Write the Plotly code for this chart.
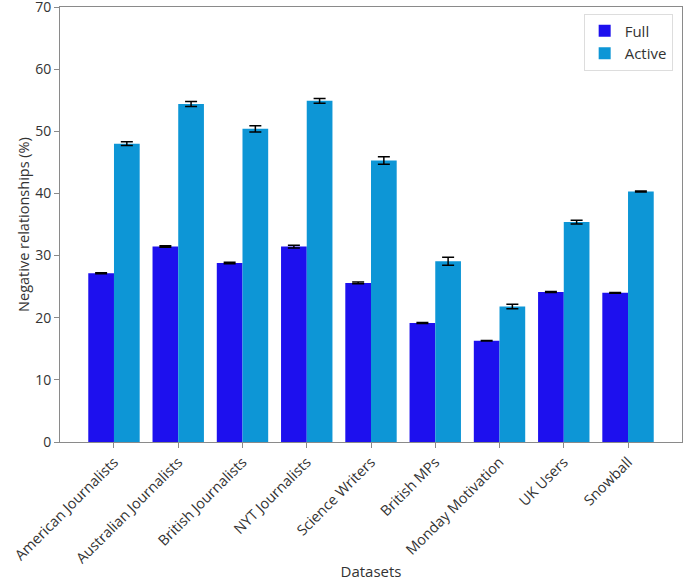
import plotly.graph_objects as go

categories = ["American Journalists", "Australian Journalists", "British Journalists",
              "NYT Journalists", "Science Writers", "British MPs", "Monday Motivation",
              "UK Users", "Snowball"]
full_values = [27.15, 31.45, 28.8, 31.45, 25.6, 19.15, 16.3, 24.15, 24.0]
full_errors = [0.08, 0.12, 0.12, 0.22, 0.15, 0.1, 0.05, 0.08, 0.05]
active_values = [48.0, 54.4, 50.4, 54.9, 45.3, 29.1, 21.8, 35.4, 40.3]
active_errors = [0.3, 0.4, 0.5, 0.38, 0.6, 0.65, 0.35, 0.3, 0.08]
y_ticks = [0, 10, 20, 30, 40, 50, 60, 70]

FONT = "Open Sans"
TEXT = "#333333"
AXIS = "#8a8a8a"

fig = go.Figure()
fig.add_trace(go.Bar(
    name="Full", x=categories, y=full_values,
    marker=dict(color="#1d10ee", line=dict(width=0)),
    error_y=dict(type="data", array=full_errors, color="black", thickness=1.5, width=6),
))
fig.add_trace(go.Bar(
    name="Active", x=categories, y=active_values,
    marker=dict(color="#0d96d6", line=dict(width=0)),
    error_y=dict(type="data", array=active_errors, color="black", thickness=1.5, width=6),
))

fig.update_layout(
    width=685, height=582,
    margin=dict(l=60, r=3, t=7, b=140),
    paper_bgcolor="white", plot_bgcolor="white",
    barmode="group", bargap=0.2, bargroupgap=0,
    font=dict(family=FONT, size=14, color=TEXT),
    legend=dict(x=0.985, y=0.985, xanchor="right", yanchor="top",
                bgcolor="white", bordercolor="#dddddd", borderwidth=1,
                font=dict(size=15, color=TEXT)),
    xaxis=dict(
        range=[-0.84, 8.84], tickangle=-45, showgrid=False, automargin=False,
        showline=True, linecolor=AXIS, linewidth=1, mirror=True,
        ticks="outside", tickcolor=AXIS, ticklen=5,
        tickfont=dict(size=14.5, color=TEXT),
        title=dict(text="Datasets", font=dict(size=15, color=TEXT), standoff=0),
    ),
    yaxis=dict(
        range=[0, 70], tickvals=y_ticks, showgrid=False, zeroline=False, automargin=False,
        showline=True, linecolor=AXIS, linewidth=1, mirror=True,
        ticks="outside", tickcolor=AXIS, ticklen=5, ticklabeloverflow="allow",
        tickfont=dict(size=14, color=TEXT),
        title=dict(text="Negative relationships (%)", font=dict(size=14.5, color=TEXT), standoff=2),
    ),
)

fig.write_html("out.html", config={"displayModeBar": False},
               post_script="document.body.style.margin='0';document.body.style.overflow='hidden';")
